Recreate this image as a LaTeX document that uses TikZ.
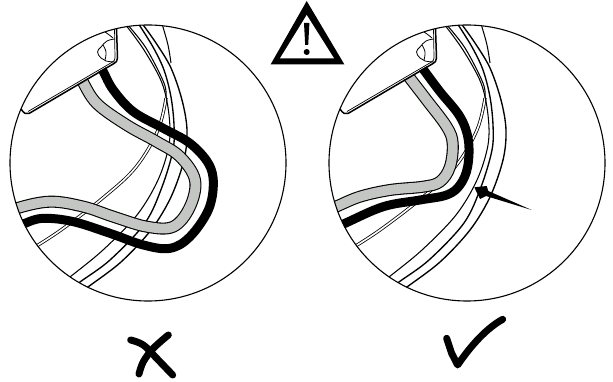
\documentclass[tikz,border=0pt]{standalone}
\tikzset{
  ringline/.style={line width=1.35pt,black},
  thinring/.style={line width=1.05pt,black},
  doublering/.style={draw=black,line width=0.8pt,double=white,double distance=1.6pt},
  graycable/.style={line width=12pt,black},
  grayfill/.style={line width=9.8pt,draw={rgb,255:red,196;green,198;blue,196}},
  blackcable/.style={line width=9pt,black},
  mark stroke/.style={line width=7pt,line cap=round,line join=round,black},
  zoomone/.style={x=0.33333pt,y=-0.33333pt},
}
\newcommand{\ringsunder}{%
  \draw[doublering] plot[smooth,tension=0.6] coordinates {(166,98) (158,130) (136,167) (104,197) (61,230) (30,250)};
  \draw[thinring] plot[smooth,tension=0.55] coordinates {(125,24) (144,50) (162,83) (169,115) (169,145) (158,180) (137,215) (103,250) (70,277) (60,285)};
  \draw[thinring] plot[smooth,tension=0.55] coordinates {(127,24) (146,48) (164,83) (166,98)};
  \draw[ringline] plot[smooth,tension=0.55] coordinates {(138,23) (153,47) (164,70) (171,97) (174,125) (173,150) (162,187) (145,223) (110,260) (80,282) (68,292)};
  \draw[ringline] plot[smooth,tension=0.55] coordinates {(141,22) (156,43) (171,68) (182,100) (187,130) (184,160) (171,197) (151,230) (121,262) (88,287) (75,297)};
  \draw[thinring] plot[smooth,tension=0.6] coordinates {(162,23) (163,27) (168,45) (171,63)};
}
\newcommand{\bracketover}{%
  \fill[white] (118,24) -- (116.5,58) -- (113,63) -- (27,113.5) -- (20,108) -- (0,90) -- (60,24) -- cycle;
  \draw[line width=1.5pt,line join=round] (116.5,28) -- (117.5,58) .. controls (117.5,61) and (116,62.5) .. (114,63.5) -- (29,113.5) .. controls (26,114.5) and (24,113.5) .. (21,109);
  \draw[line width=0.7pt] (114.5,28) -- (115,58) .. controls (115,60) and (114,61) .. (112.5,62) -- (28,111.5);
  \draw[line width=0.8pt] plot[smooth,tension=0.7] coordinates {(115,39) (107,41) (101,47) (97.5,52) (101,58) (106,61) (115,62)};
  \draw[line width=0.8pt] plot[smooth,tension=0.7] coordinates {(102,30) (108,34) (113,38)};
  \draw[line width=0.8pt] plot[smooth,tension=0.7] coordinates {(103,45) (106,52) (105,60)};
}
\begin{document}
\begin{tikzpicture}[x=1pt,y=-1pt]
\useasboundingbox (0,0) rectangle (613,382);
% left figure
\begin{scope}
  \clip (148,163) circle[radius=138];
  \ringsunder
  \begin{scope}[zoomone]
    \def\graypath{plot[smooth,tension=0.6] coordinates {(225,210) (245,240) (290,310) (380,375) (470,425) (540,470) (585,540) (570,620) (520,680) (440,680) (340,650) (250,620) (150,605) (50,625) (0,650)}}
    \draw[graycable] \graypath;
    \draw[grayfill] \graypath;
    \draw[blackcable] plot[smooth,tension=0.6] coordinates {(295,190) (310,215) (340,270) (400,335) (490,385) (570,430) (625,490) (640,550) (625,630) (570,710) (510,745) (430,735) (330,700) (220,665) (130,655) (75,670) (40,690)};
  \end{scope}
  \bracketover
\end{scope}
\draw[line width=1.1pt] (148,163) circle[radius=138];
% right figure
\begin{scope}[shift={(319,0)}]
  \begin{scope}
    \clip (148,163) circle[radius=138];
    \ringsunder
    \begin{scope}[shift={(-19,0)},zoomone]
      \def\graypath{plot[smooth,tension=0.6] coordinates {(315,215) (330,235) (380,300) (440,380) (458,430) (450,500) (420,545) (370,560) (270,570) (180,590) (108,620) (60,640)}}
      \draw[graycable] \graypath;
      \draw[grayfill] \graypath;
      \draw[blackcable] plot[smooth,tension=0.6] coordinates {(360,195) (375,215) (420,275) (480,350) (505,420) (503,500) (480,555) (440,585) (360,600) (250,620) (135,670) (80,695)};
    \end{scope}
    \bracketover
  \end{scope}
  \draw[line width=1.1pt] (148,163) circle[radius=138];
\end{scope}
% arrow
\fill[black] (474.3,187.3) -- (486.7,186) -- (488.3,191) -- (531.7,210) -- (486,196) -- (480,199) -- cycle;
% warning triangle
\fill[black] (306.7,1) -- (344.3,64.3) -- (270.7,64.3) -- cycle;
\fill[white] (306.7,15) -- (334,58.3) -- (280,58.3) -- cycle;
\fill[black] (304,23) -- (309.4,23) -- (308.2,45) -- (305.2,45) -- cycle;
\fill[black] (306.7,52) circle[radius=3];
% cross and tick
\begin{scope}[shift={(100,300)},zoomone]
  \draw[mark stroke] plot[smooth,tension=0.6] coordinates {(92,120) (130,135) (170,175) (218,225)};
  \draw[mark stroke] plot[smooth,tension=0.6] coordinates {(205,105) (160,145) (130,185) (117,222)};
  \draw[mark stroke] (1040,115) -- (1055,160) -- (1073,195) .. controls (1100,155) and (1150,90) .. (1208,58);
\end{scope}
\end{tikzpicture}
\end{document}
